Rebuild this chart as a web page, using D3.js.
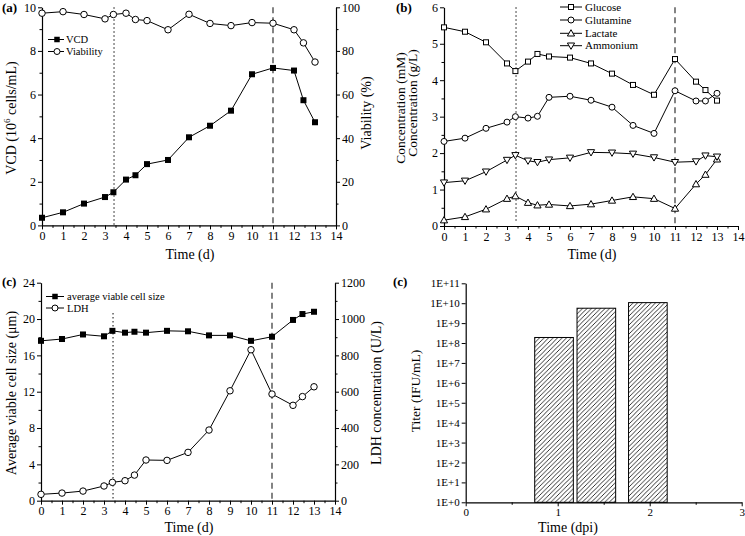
<!DOCTYPE html>
<html><head><meta charset="utf-8">
<script src="https://cdn.jsdelivr.net/npm/d3@7"></script>
<style>
body{margin:0;background:#fff;}
svg{display:block;}
svg text{font-family:"Liberation Serif","Times New Roman",serif !important;}
</style></head>
<body><svg id="c" width="745" height="536"></svg>
<script>
// ---------- data ----------
const days = [0,1,2,3,3.4,4,4.45,5,6,7,8,9,10,11,12,12.45,13];
const vcd = [0.35,0.6,1.0,1.3,1.52,2.1,2.3,2.81,3.0,4.04,4.57,5.26,6.93,7.22,7.1,5.74,4.73];
const viability = [97.3,98,96.7,94.7,96.7,97.3,94.4,93.9,89.7,96.8,92.6,91.6,93,92.7,89.7,83.7,74.9];
const glucose = [5.45,5.33,5.04,4.46,4.25,4.51,4.72,4.65,4.62,4.46,4.18,3.87,3.6,4.58,3.96,3.73,3.44];
const glutamine = [2.32,2.41,2.68,2.85,3.0,2.96,3.01,3.53,3.56,3.45,3.26,2.76,2.54,3.71,3.43,3.43,3.64];
const lactate = [0.16,0.25,0.46,0.75,0.82,0.64,0.57,0.59,0.55,0.6,0.7,0.8,0.75,0.48,1.15,1.41,1.83];
const ammonium = [1.19,1.24,1.49,1.81,1.94,1.79,1.75,1.82,1.87,2.02,2.01,1.98,1.88,1.75,1.77,1.93,1.9];
const cellSize = [17.6,17.8,18.3,18.1,18.7,18.5,18.6,18.5,18.7,18.65,18.2,18.2,17.6,18.05,19.9,20.55,20.8];
const ldh = [35,42,53,81,101,110,141,224,222,266,389,605,831,587,525,573,627];
const infectionDay = 3.43;   // dotted line
const harvestDay = 11;       // dashed line
const titerTimes = [0.96, 1.42, 1.98];
const titerValues = [1.9e8, 5.6e9, 1.07e10];
const titerBarWidth = 0.42;
const titerTickLabels = ["1E+0","1E+1","1E+2","1E+3","1E+4","1E+5","1E+6","1E+7","1E+8","1E+9","1E+10","1E+11"];

// ---------- helpers ----------
const svg = d3.select("#c");
const FONT_TICK = 12;

function styleAxis(g, fs){
  g.attr("font-family",null);
  g.selectAll("path.domain").attr("stroke","#000").attr("stroke-width",1.2);
  g.selectAll(".tick line").attr("stroke","#000").attr("stroke-width",1);
  g.selectAll(".tick text").attr("font-size",fs||FONT_TICK).attr("fill","#000");
}
function addAxis(orient, scale, pos, major, minor, fmt, fs, pad){
  const mk = {bottom:d3.axisBottom,left:d3.axisLeft,right:d3.axisRight}[orient];
  const tr = orient==="bottom" ? `translate(0,${pos})` : `translate(${pos},0)`;
  if(minor){
    const gm = svg.append("g").attr("transform",tr)
      .call(mk(scale).tickValues(minor).tickSize(2.5).tickFormat(""));
    gm.select("path.domain").remove();
    gm.selectAll(".tick line").attr("stroke","#000");
  }
  const g = svg.append("g").attr("transform",tr)
    .call(mk(scale).tickValues(major).tickSize(4).tickPadding(pad==null?2:pad).tickSizeOuter(0).tickFormat(fmt||d3.format("d")));
  styleAxis(g, fs);
  return g;
}
function line(x,y,xs,ys){
  return d3.line().x((d,i)=>x(xs[i])).y(d=>y(d))(ys);
}
function drawSeries(x,y,xs,ys,marker,size){
  svg.append("path").attr("d",line(x,y,xs,ys)).attr("fill","none").attr("stroke","#000").attr("stroke-width",1);
  const g = svg.append("g");
  ys.forEach((v,i)=>drawMarker(g, x(xs[i]), y(v), marker, size));
}
function drawMarker(g,cx,cy,marker,size){
  const s=size;
  if(marker==="fsquare") g.append("rect").attr("x",cx-s/2).attr("y",cy-s/2).attr("width",s).attr("height",s).attr("fill","#000");
  else if(marker==="osquare") g.append("rect").attr("x",cx-s/2).attr("y",cy-s/2).attr("width",s).attr("height",s).attr("fill","#fff").attr("stroke","#000").attr("stroke-width",1);
  else if(marker==="ocircle") g.append("circle").attr("cx",cx).attr("cy",cy).attr("r",s/2).attr("fill","#fff").attr("stroke","#000").attr("stroke-width",1);
  else if(marker==="tup") g.append("path").attr("d",`M${cx},${cy-s*0.6}L${cx+s*0.6},${cy+s*0.45}L${cx-s*0.6},${cy+s*0.45}Z`).attr("fill","#fff").attr("stroke","#000").attr("stroke-width",1);
  else if(marker==="tdown") g.append("path").attr("d",`M${cx},${cy+s*0.6}L${cx+s*0.6},${cy-s*0.45}L${cx-s*0.6},${cy-s*0.45}Z`).attr("fill","#fff").attr("stroke","#000").attr("stroke-width",1);
}
function vline(x,xv,y0,y1,dash){
  svg.append("line").attr("x1",x(xv)).attr("x2",x(xv)).attr("y1",y0).attr("y2",y1)
    .attr("stroke","#333").attr("stroke-width",1.2).attr("stroke-dasharray",dash);
}
function text(x,y,str,opts){
  opts=opts||{};
  const t=svg.append("text").attr("x",x).attr("y",y).text(str)
    .attr("font-size",opts.fs||14).attr("text-anchor",opts.anchor||"start").attr("fill","#000");
  if(opts.bold) t.attr("font-weight","bold");
  if(opts.rot) t.attr("transform",`rotate(-90,${x},${y})`);
  return t;
}
function legend(x0,x1,xm,tx,y,marker,size,label,fs){
  svg.append("line").attr("x1",x0).attr("x2",x1).attr("y1",y).attr("y2",y).attr("stroke","#000");
  drawMarker(svg.append("g"),xm,y,marker,size);
  text(tx,y+3.5,label,{fs:fs||10.5});
}
const dayTicks = d3.range(0,15);
const dayMinor = d3.range(0.5,14,1);

// ---------- panel (a) ----------
{
  const x = d3.scaleLinear().domain([0,14]).range([42,336]);
  const y = d3.scaleLinear().domain([0,10]).range([225.4,7.3]);
  const y2 = d3.scaleLinear().domain([0,100]).range([225.4,7.3]);
  vline(x,infectionDay,7.3,225.4,"1.5,2.5");
  vline(x,harvestDay,7.3,225.4,"6,4");
  addAxis("bottom",x,225.4,dayTicks,dayMinor);
  addAxis("left",y,42,d3.range(0,11,2),d3.range(1,10,2));
  addAxis("right",y2,336,d3.range(0,101,20),d3.range(10,100,20));
  drawSeries(x,y2,days,viability,"ocircle",6.5);
  drawSeries(x,y,days,vcd,"fsquare",6);
  legend(48,64,57,66,39.5,"fsquare",5.5,"VCD");
  legend(48,64,57,66,51.5,"ocircle",6,"Viability");
  text(190,259,"Time (d)",{anchor:"middle"});
  const t=text(16,118,"",{anchor:"middle",rot:true});
  t.append("tspan").text("VCD (10");
  t.append("tspan").text("6").attr("font-size",9).attr("dy",-6);
  t.append("tspan").text(" cells/mL)").attr("dy",6);
  text(371,113,"Viability (%)",{anchor:"middle",rot:true});
  text(2,12,"(a)",{fs:13,bold:true});
}

// ---------- panel (b) ----------
{
  const x = d3.scaleLinear().domain([0,14]).range([444,738]);
  const y = d3.scaleLinear().domain([0,6]).range([226,7.3]);
  vline(x,infectionDay,7.3,222,"1.5,2.5");
  vline(x,harvestDay,7.3,224,"6,4");
  addAxis("bottom",x,226,dayTicks,dayMinor);
  addAxis("left",y,444,d3.range(0,7,1),d3.range(0.5,6,1));
  drawSeries(x,y,days,glucose,"osquare",5);
  drawSeries(x,y,days,glutamine,"ocircle",6);
  drawSeries(x,y,days,lactate,"tup",6);
  drawSeries(x,y,days,ammonium,"tdown",6);
  legend(560,582,571,585,7,"osquare",5,"Glucose",11);
  legend(560,582,571,585,20,"ocircle",6,"Glutamine",11);
  legend(560,582,571,585,33.3,"tup",6,"Lactate",11);
  legend(560,582,571,585,45.7,"tdown",6,"Ammonium",11);
  text(592,259,"Time (d)",{anchor:"middle"});
  text(405,108,"Concentration (mM)",{anchor:"middle",rot:true,fs:13.5});
  text(417,103,"Concentration (g/L)",{anchor:"middle",rot:true,fs:13.5});
  text(396,12,"(b)",{fs:13,bold:true});
}

// ---------- panel (c) ----------
{
  const x = d3.scaleLinear().domain([0,14]).range([41,335]);
  const y = d3.scaleLinear().domain([0,24]).range([500.7,282.7]);
  const y2 = d3.scaleLinear().domain([0,1200]).range([500.7,282.7]);
  vline(x,infectionDay,313,500.7,"1.5,2.5");
  vline(x,harvestDay,282.7,500.7,"6,4");
  addAxis("bottom",x,500.7,dayTicks,dayMinor);
  addAxis("left",y,41,d3.range(0,25,4),d3.range(2,24,4));
  addAxis("right",y2,335,d3.range(0,1201,200),d3.range(100,1200,200));
  drawSeries(x,y2,days,ldh,"ocircle",6.5);
  drawSeries(x,y,days,cellSize,"fsquare",6);
  legend(46,64,55,67,296.5,"fsquare",5.5,"average viable cell size");
  legend(46,64,55,67,308,"ocircle",6,"LDH");
  text(189,532,"Time (d)",{anchor:"middle"});
  text(16,393,"Average viable cell size (μm)",{anchor:"middle",rot:true});
  text(381,393,"LDH concentration (U/L)",{anchor:"middle",rot:true});
  text(2,286,"(c)",{fs:13,bold:true});
}

// ---------- panel (d) ----------
{
  const x = d3.scaleLinear().domain([0,3]).range([465.7,741.7]);
  const y = d3.scaleLog().domain([1,1e11]).range([502.3,283.3]);
  const defs = svg.append("defs");
  const pat = defs.append("pattern").attr("id","hatch").attr("patternUnits","userSpaceOnUse")
    .attr("width",4.5).attr("height",4.5);
  pat.append("rect").attr("width",4.5).attr("height",4.5).attr("fill","#fff");
  pat.append("path").attr("d","M-1,1L1,-1M0,4.5L4.5,0M3.5,5.5L5.5,3.5").attr("stroke","#000").attr("stroke-width",0.8);
  svg.append("g").selectAll("rect").data(titerValues).join("rect")
    .attr("x",(d,i)=>x(titerTimes[i]-titerBarWidth/2))
    .attr("width",(d,i)=>x(titerTimes[i]+titerBarWidth/2)-x(titerTimes[i]-titerBarWidth/2))
    .attr("y",d=>y(d)).attr("height",d=>y(1)-y(d))
    .attr("fill","url(#hatch)").attr("stroke","#000").attr("stroke-width",1);
  addAxis("bottom",x,502.3,[0,1,2,3],[0.5,1.5,2.5],d3.format("d"),11,1.5);
  const decades = d3.range(0,12).map(e=>Math.pow(10,e));
  addAxis("left",y,465.7,decades,null,(d,i)=>titerTickLabels[Math.round(Math.log10(d))],11);
  text(568,532,"Time (dpi)",{anchor:"middle",fs:14});
  text(420,391,"Titer (IFU/mL)",{anchor:"middle",rot:true,fs:13.5});
  text(393,286,"(c)",{fs:13,bold:true});
}
</script></body></html>
